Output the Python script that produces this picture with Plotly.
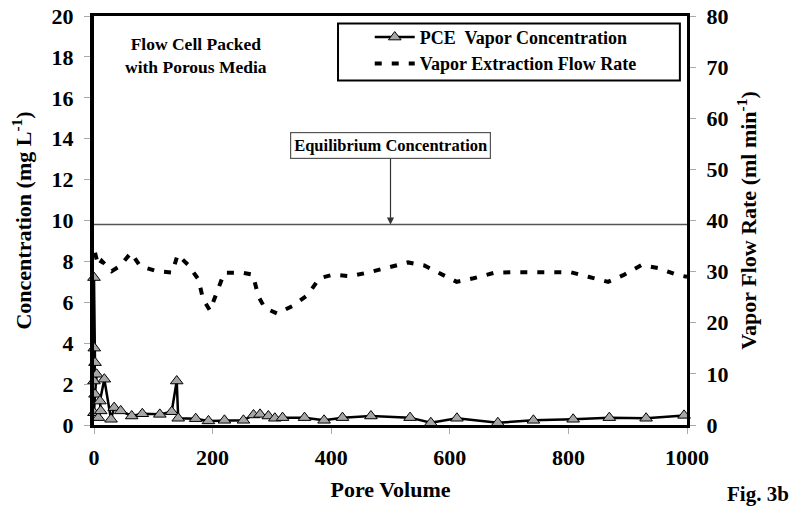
import plotly.graph_objects as go

# ---------------- data ----------------
conc_x = [0, 0.5, 1.7, 0, 4.5, 1.7, 0, 7.3, 11.3, 10, 17.4, 28.7, 34, 45, 63.6, 81.5,
          111, 131, 139.5, 142, 171.5, 193, 220, 252, 269, 280, 294, 305, 318, 355,
          388, 419, 467, 533, 568, 612, 681, 741, 808, 869, 931, 995]
conc_y = [7.21, 3.76, 3.05, 2.15, 2.48, 1.5, 0.6, 0.36, 0.69, 1.17, 2.24, 0.28, 0.85, 0.69,
          0.44, 0.55, 0.52, 0.65, 2.15, 0.33, 0.31, 0.2, 0.23, 0.23, 0.49, 0.52, 0.44, 0.33,
          0.36, 0.36, 0.23, 0.36, 0.44, 0.36, 0.11, 0.33, 0.11, 0.23, 0.28, 0.36, 0.33, 0.47]

flow_x = [1.7, 4.5, 7.3, 13, 29.8, 43.8, 62.4, 77.6, 105.7, 132, 141, 159, 176, 184, 195.6,
          208, 219.7, 249, 268, 277, 288, 309, 335, 360, 380, 403.5, 432, 465, 494.6, 529.5,
          557, 583.5, 611.6, 640, 676, 704, 738, 769, 803, 833.6, 867, 892.6, 923.6, 951.6,
          985, 1000]
flow_y = [33.7, 32.5, 31.1, 32.1, 30.1, 31.1, 33.7, 31.1, 30.1, 29.8, 33.3, 31.3, 28.5, 24.6,
          22.4, 26.2, 29.8, 29.8, 29.4, 25.2, 22.9, 21.8, 23.3, 25.4, 28.7, 29.4, 29.1, 29.9,
          30.8, 31.8, 31.2, 29.7, 28.0, 28.7, 29.8, 29.9, 29.9, 29.9, 29.9, 29.0, 28.0, 29.3,
          31.3, 30.7, 29.3, 29.0]

EQ_CONC = 9.8
EQ_ARROW_X = 500

x_ticks = [0, 200, 400, 600, 800, 1000]
y_left_ticks = list(range(0, 21, 2))
y_right_ticks = list(range(0, 81, 10))

FONT = "Liberation Serif"

fig = go.Figure()

fig.add_trace(go.Scatter(
    x=conc_x, y=conc_y, mode="lines+markers",
    name="PCE  Vapor Concentration",
    line=dict(color="black", width=2.5),
    marker=dict(symbol="triangle-up", size=11, color="#a6a6a6",
                line=dict(color="black", width=1)),
    cliponaxis=False,
))

fig.add_trace(go.Scatter(
    x=flow_x, y=flow_y, mode="lines", yaxis="y2",
    name="Vapor Extraction Flow Rate",
    line=dict(color="black", width=4, dash="7px,10px"),
))

# equilibrium line
fig.add_shape(type="line", xref="x", yref="y", x0=0, x1=1000, y0=EQ_CONC, y1=EQ_CONC,
              line=dict(color="#555555", width=1.5))

# legend frame
fig.add_shape(type="rect", xref="paper", yref="paper",
              x0=0.4115, x1=0.988, y0=0.842, y1=0.9816,
              line=dict(color="black", width=2), fillcolor="rgba(0,0,0,0)")

fig.add_annotation(
    x=EQ_ARROW_X, y=EQ_CONC, xref="x", yref="y",
    text="Equilibrium Concentration", showarrow=True,
    ax=0, ay=-79, arrowhead=2, arrowsize=1.2, arrowwidth=1.2, arrowcolor="#333333",
    font=dict(family=FONT, size=16.5, color="black", weight="bold"),
    bordercolor="#555555", borderwidth=1.2, borderpad=3, bgcolor="white",
)

fig.add_annotation(
    x=0.172, y=0.903, xref="paper", yref="paper", showarrow=False,
    xanchor="center", yanchor="middle",
    text="Flow Cell Packed<br>with Porous Media",
    font=dict(family=FONT, size=17.5, color="black", weight="bold"),
    align="center",
)

fig.add_annotation(
    x=1.12, y=-0.169, xref="paper", yref="paper", showarrow=False,
    xanchor="center", yanchor="middle",
    text="Fig. 3b",
    font=dict(family=FONT, size=21, color="black", weight="bold"),
)

tickfont = dict(family=FONT, size=22, color="black", weight="bold")
titlefont = dict(family=FONT, size=22, color="black", weight="bold")

fig.update_layout(
    width=792, height=500,
    margin=dict(l=86, r=113, t=8, b=83, autoexpand=False),
    paper_bgcolor="white", plot_bgcolor="white",
    font=dict(family=FONT, color="black", weight="bold"),
    showlegend=True,
    legend=dict(x=0.465, y=0.993, xanchor="left", yanchor="top",
                bgcolor="rgba(0,0,0,0)", borderwidth=0,
                font=dict(family=FONT, size=18, color="black", weight="bold"),
                itemwidth=40, tracegroupgap=0),
    xaxis=dict(range=[0, 1000], tickvals=x_ticks, showgrid=False, zeroline=False,
               showline=True, linecolor="black", linewidth=3, mirror=True,
               ticks="outside", ticklen=6, tickcolor="#aaaaaa", tickwidth=1,
               tickfont=tickfont, ticklabelstandoff=5, ticklabeloverflow="allow",
               title=dict(text="Pore Volume", font=titlefont, standoff=13)),
    yaxis=dict(range=[0, 20], tickvals=y_left_ticks, showgrid=False, zeroline=False,
               showline=True, linecolor="black", linewidth=4,
               ticks="outside", ticklen=6, tickcolor="#aaaaaa", tickwidth=1,
               tickfont=tickfont, ticklabelstandoff=6, ticklabeloverflow="allow",
               title=dict(text="Concentration (mg L<sup>-1</sup>)", font=titlefont, standoff=19)),
    yaxis2=dict(range=[0, 80], tickvals=y_right_ticks, overlaying="y", side="right",
                showgrid=False, zeroline=False,
                showline=True, linecolor="black", linewidth=3,
                ticks="outside", ticklen=6, tickcolor="#aaaaaa", tickwidth=1,
                tickfont=tickfont, ticklabelstandoff=6, ticklabeloverflow="allow",
                title=dict(text="Vapor Flow Rate (ml min<sup>-1</sup>)", font=titlefont, standoff=14)),
)

fig.write_html("out.html")
